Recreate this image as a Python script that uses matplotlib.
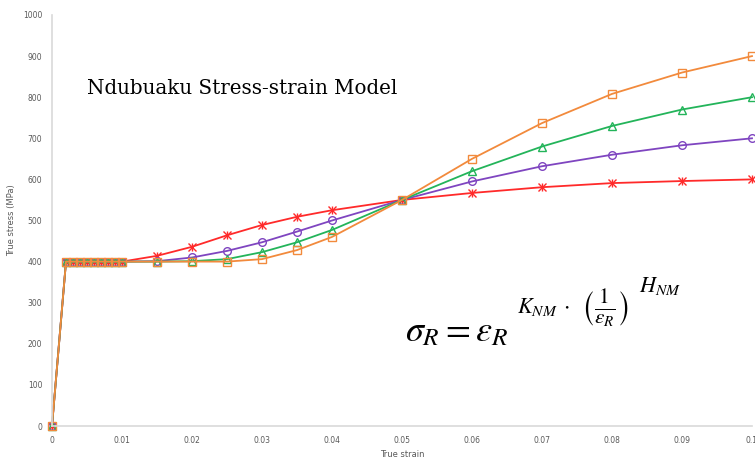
import numpy as np
import matplotlib
matplotlib.use('Agg')
from matplotlib import pyplot as plt

# strain points (plateau, then hardening part)
strain = [0, 0.002, 0.003, 0.004, 0.005, 0.006, 0.007, 0.008, 0.009, 0.01,
          0.015, 0.02, 0.025, 0.03, 0.035, 0.04, 0.05, 0.06, 0.07, 0.08, 0.09, 0.1]
plateau = [0, 400, 400, 400, 400, 400, 400, 400, 400, 400]

stress_red = plateau + [414, 436, 464, 489, 509, 525, 550, 567, 581, 591, 596, 600]
stress_purple = plateau + [401, 410, 426, 447, 473, 500, 550, 595, 632, 660, 683, 700]
stress_green = plateau + [400, 401, 406, 423, 447, 477, 550, 620, 680, 730, 770, 800]
stress_orange = plateau + [400, 400, 400, 406, 428, 460, 550, 650, 737, 808, 860, 900]

xticks = [0, 0.01, 0.02, 0.03, 0.04, 0.05, 0.06, 0.07, 0.08, 0.09, 0.1]
xtick_labels = ['0', '0.01', '0.02', '0.03', '0.04', '0.05', '0.06', '0.07', '0.08', '0.09', '0.1']
yticks = list(range(0, 1001, 100))

plt.rcParams['mathtext.fontset'] = 'stix'

fig = plt.figure(figsize=(7.55, 4.58), dpi=100)
ax = fig.add_axes([52/755, 32/458, 700/755, 411/458])

series = [
    (stress_red, '#ff2a2a', 'x'),
    (stress_purple, '#7f45c0', 'o'),
    (stress_green, '#23b45a', '^'),
    (stress_orange, '#f28a3c', 's'),
]
for vals, col, mk in series:
    ax.plot(strain, vals, color=col, lw=1.3, marker=mk, ms=5.5,
            mfc='none', mec=col, mew=1.0, clip_on=False)
    if mk == 'x':
        # excel star marker = x with a vertical bar
        ax.plot(strain, vals, ls='none', marker='|', ms=5.5, mec=col, mew=1.0, clip_on=False)

ax.set_xlim(0, 0.1)
ax.set_ylim(0, 1000)
ax.set_xticks(xticks)
ax.set_xticklabels(xtick_labels)
ax.set_yticks(yticks)
ax.tick_params(length=0, labelsize=5.5, labelcolor='#595959', pad=7)
for s in ['top', 'right']:
    ax.spines[s].set_visible(False)
for s in ['left', 'bottom']:
    ax.spines[s].set_color('#d9d9d9')
    ax.spines[s].set_linewidth(1.2)

ax.set_xlabel('True strain', fontsize=6, color='#595959', labelpad=4)
ax.set_ylabel('True stress (MPa)', fontsize=6, color='#595959', labelpad=5)

fig.text(87/755, 1 - 88/458, 'Ndubuaku Stress-strain Model', fontsize=14.3,
         family='DejaVu Serif', va='center', ha='left')

# formula, built from pieces so the exponent keeps its size
fig.text(405/755, 1 - 341/458, r'$\sigma_R = \varepsilon_R$',
         fontsize=26, va='baseline', ha='left')
fig.text(517/755, 1 - 313/458, r'$K_{NM}\;\cdot$',
         fontsize=16, va='baseline', ha='left')
fig.text(581/755, 1 - 308/458, r'$\left(\frac{1}{\varepsilon_R}\right)$',
         fontsize=22, va='center', ha='left')
fig.text(639/755, 1 - 292/458, r'$H_{NM}$', fontsize=16, va='baseline', ha='left')

plt.savefig('out.png', dpi=100)
